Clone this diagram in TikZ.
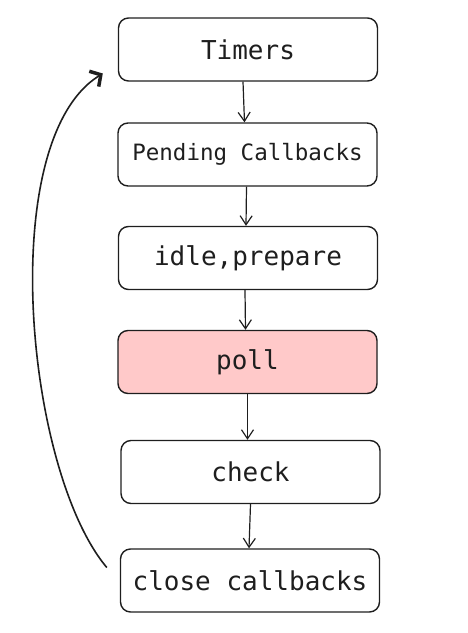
\documentclass[tikz,border=0pt]{standalone}
\usepackage{fontspec}
\setmonofont{DejaVu Sans Mono}
\usetikzlibrary{arrows.meta}
\definecolor{ink}{HTML}{1E1E1E}
\definecolor{pollpink}{HTML}{FFC9C9}
\tikzset{
  phase/.style={draw=ink, line width=1.4pt, rounded corners=10pt,
    minimum width=259pt, minimum height=63pt, text=ink,
    font=\ttfamily\fontsize{26}{30}\selectfont},
  flow/.style={draw=ink, line width=1.2pt, -{Straight Barb[length=9pt,width=12pt]}}
}
\begin{document}
\begin{tikzpicture}[x=1pt,y=-1pt]
      \useasboundingbox (0,0) rectangle (467,633);
      \draw
        (248,49.5) node[phase] (timers){Timers}
        (247.5,154.5) node[phase, font=\ttfamily\fontsize{22.5}{26}\selectfont] (pending){Pending Callbacks}
        (248,258) node[phase] (idle){idle,prepare}
        (247.5,362) node[phase, fill=pollpink] (poll){poll}
        (250.5,472) node[phase] (check){check}
        (250,580.5) node[phase] (close){close callbacks};
      \coordinate (loopstart) at ([xshift=-13pt,yshift=13pt]close.west);
      \coordinate (loopend) at ([xshift=-15pt,yshift=-24pt]timers.west);
      \begin{scope}[flow]
        \draw ([xshift=-5pt]timers.south) to ([xshift=-3pt]pending.north);
        \draw ([xshift=-1pt]pending.south) to ([xshift=-2pt]idle.north);
        \draw ([xshift=-3pt]idle.south) to ([xshift=-2pt]poll.north);
        \draw (poll.south) to ([xshift=-3pt]check.north);
        \draw (check.south) to ([xshift=-1pt]close.north);
      \end{scope}
      \draw[draw=ink, line width=1.6pt, -{Straight Barb[length=8pt,width=18pt,line width=3.5pt]}]
        (loopstart) .. controls (25,470) and (-5,140) .. (loopend);
    \end{tikzpicture}
\end{document}
